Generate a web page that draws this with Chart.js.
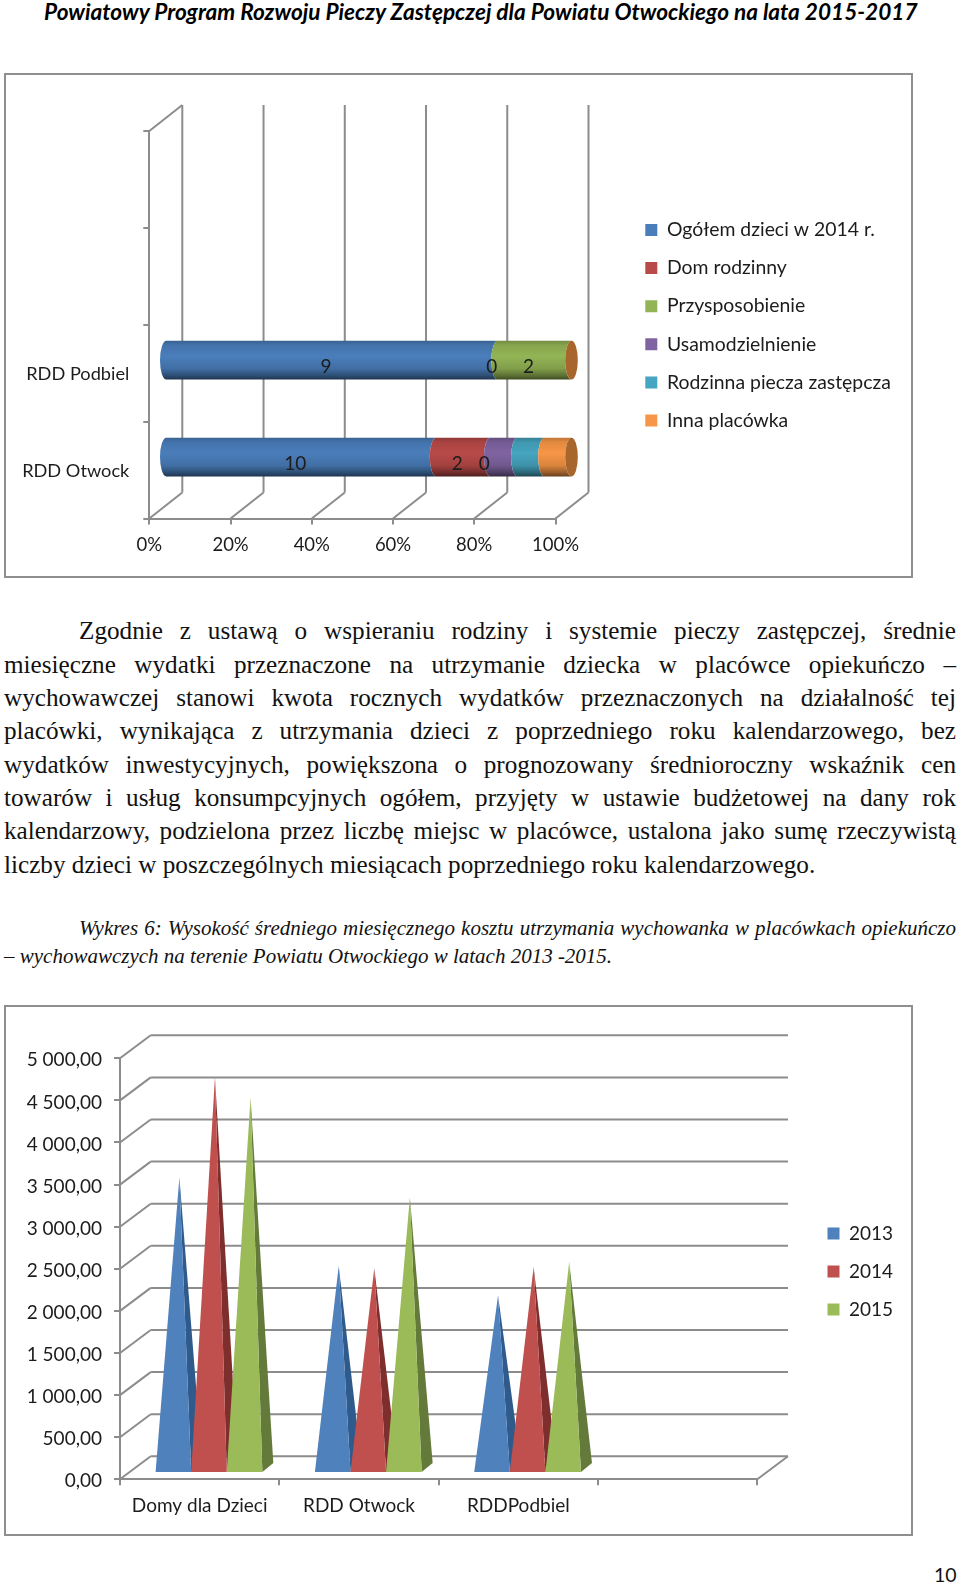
<!DOCTYPE html>
<html lang="pl">
<head>
<meta charset="utf-8">
<title>Powiatowy Program Rozwoju Pieczy Zastępczej</title>
<script src="https://cdn.jsdelivr.net/npm/chart.js@4/dist/chart.umd.min.js"></script>
<style>
html, body { margin: 0; padding: 0; background: #fff; }
body { position: relative; width: 960px; height: 1585px; overflow: hidden; color: #111; }
.head { position: absolute; left: 44px; top: 0; width: 873px; height: 24px; font: italic bold 22.6px/24px Lato, sans-serif; text-align: justify; text-align-last: justify; white-space: nowrap; color: #000; }
.line { position: absolute; left: 4px; width: 952px; height: 33px; font: 25.2px/33px "Liberation Serif", serif; text-align: justify; text-align-last: justify; white-space: nowrap; }
.line.last { text-align-last: left; }
.first { left: 79px; width: 877px; }
.cap { font: italic 21px/28px "Liberation Serif", serif; height: 28px; }
.frame { position: absolute; left: 4px; width: 909px; box-sizing: border-box; border: 2px solid #8e8e8e; }
.frame canvas { position: absolute; left: 0; top: 0; }
.page { position: absolute; left: 934px; top: 1562px; font: 19.5px/26px Lato, sans-serif; }
</style>
</head>
<body>
<div class="head">Powiatowy Program Rozwoju Pieczy Zastępczej dla Powiatu Otwockiego na lata 2015-2017</div>

<div class="frame" style="top:73px;height:505px"><canvas id="chartTop" width="905" height="501"></canvas></div>

<div class="line first" style="top:614px">Zgodnie z ustawą o wspieraniu rodziny i systemie pieczy zastępczej, średnie</div>
<div class="line" style="top:648px">miesięczne wydatki przeznaczone na utrzymanie dziecka w placówce opiekuńczo –</div>
<div class="line" style="top:681px">wychowawczej stanowi kwota rocznych wydatków przeznaczonych na działalność tej</div>
<div class="line" style="top:714px">placówki, wynikająca z utrzymania dzieci z poprzedniego roku kalendarzowego, bez</div>
<div class="line" style="top:748px">wydatków inwestycyjnych, powiększona o prognozowany średnioroczny wskaźnik cen</div>
<div class="line" style="top:781px">towarów i usług konsumpcyjnych ogółem, przyjęty w ustawie budżetowej na dany rok</div>
<div class="line" style="top:814px">kalendarzowy, podzielona przez liczbę miejsc w placówce, ustalona jako sumę rzeczywistą</div>
<div class="line last" style="top:848px">liczby dzieci w poszczególnych miesiącach poprzedniego roku kalendarzowego.</div>

<div class="line first cap" style="top:914px">Wykres 6: Wysokość średniego miesięcznego kosztu utrzymania wychowanka w placówkach opiekuńczo</div>
<div class="line last cap" style="top:942px">– wychowawczych na terenie Powiatu Otwockiego w latach 2013 -2015.</div>

<div class="frame" style="top:1005px;height:531px"><canvas id="chartBottom" width="905" height="527"></canvas></div>

<div class="page">10</div>

<script>
// top chart
const placeCategories = ['RDD Otwock', 'RDD Podbiel', '', ''];
const placeSeries = ['Ogółem dzieci w 2014 r.', 'Dom rodzinny', 'Przysposobienie', 'Usamodzielnienie', 'Rodzinna piecza zastępcza', 'Inna placówka'];
const ogolem = [10, 9, null, null];
const domRodzinny = [2, 0, null, null];
const przysposobienie = [0, 2, null, null];
const usamodzielnienie = [1, 0, null, null];
const rodzinnaPiecza = [1, 0, null, null];
const innaPlacowka = [1, 0, null, null];
const percentTicks = ['0%', '20%', '40%', '60%', '80%', '100%'];
const placeColors = ['#4a7ebb', '#b94a48', '#93b455', '#8064a2', '#46a5c0', '#f79646'];

// bottom chart
const homeCategories = ['Domy dla Dzieci', 'RDD Otwock', 'RDDPodbiel', ''];
const years = ['2013', '2014', '2015'];
const cost2013 = [3443, 2393, 2044, null];
const cost2014 = [4633, 2369, 2381, null];
const cost2015 = [4395, 3208, 2440, null];
const costTicks = ['0,00', '500,00', '1 000,00', '1 500,00', '2 000,00', '2 500,00', '3 000,00', '3 500,00', '4 000,00', '4 500,00', '5 000,00'];
const yearColors = ['#4f81bd', '#c0504d', '#9bbb59'];
const yearSides = ['#2f5b8c', '#7e2f2d', '#647a3b'];

const GREY = '#8c8c8c';
const TEXT = '#1c1c1c';
Chart.defaults.font.family = 'Lato, sans-serif';
Chart.defaults.font.size = 19;
Chart.defaults.color = TEXT;
Chart.defaults.animation = false;

const shade = (hex, f) => {
    const n = parseInt(hex.slice(1), 16);
    return `rgb(${(n >> 16) * f | 0},${((n >> 8) & 255) * f | 0},${(n & 255) * f | 0})`;
};

const line = (ctx, x1, y1, x2, y2) => {
    ctx.beginPath();
    ctx.moveTo(x1, y1);
    ctx.lineTo(x2, y2);
    ctx.stroke();
};

// the default bars are replaced by the 3D shapes, the legend is moved next to the plot
const moveLegend = (x, y) => ({
    id: 'moveLegend',
    afterLayout(chart) {
        const lg = chart.legend;
        lg.left = x; lg.right = x + lg.width;
        lg.top = y; lg.bottom = y + lg.height;
    }
});

const cylinders = {
    id: 'cylinders',
    beforeDatasetDraw: () => false,
    beforeDatasetsDraw(chart) {
        const ctx = chart.ctx, xs = chart.scales.x, ys = chart.scales.y;
        const dx = 33, dy = -26;   // depth of the floor
        const barDx = 16, barDy = -13, rx = 6.3;
        ctx.save();
        ctx.strokeStyle = GREY;
        ctx.lineWidth = 2;
        xs.ticks.forEach(t => {
            const x = xs.getPixelForValue(t.value);
            line(ctx, x + dx, ys.bottom + dy, x + dx, ys.top + dy);
            line(ctx, x, ys.bottom, x + dx, ys.bottom + dy);
        });
        line(ctx, xs.left, ys.top, xs.left + dx, ys.top + dy);

        chart.data.datasets.forEach((ds, i) => {
            chart.getDatasetMeta(i).data.forEach((el, j) => {
                if (ds.counts[j] === null || el.x === el.base) return;
                const x0 = el.base + barDx, x1 = el.x + barDx, cy = el.y + barDy, h = el.height;
                const g = ctx.createLinearGradient(0, cy - h / 2, 0, cy + h / 2);
                [[0, .78], [.12, .92], [.4, 1], [.72, .88], [.9, .62], [1, .42]].forEach(s => g.addColorStop(s[0], shade(ds.backgroundColor, s[1])));
                ctx.fillStyle = g;
                ctx.beginPath();
                ctx.ellipse(x0, cy, rx, h / 2, 0, -Math.PI / 2, Math.PI / 2, true);
                ctx.ellipse(x1, cy, rx, h / 2, 0, Math.PI / 2, Math.PI * 1.5, false);
                ctx.closePath();
                ctx.fill();
            });
        });

        // end caps sit on the last series
        const lastMeta = chart.getDatasetMeta(chart.data.datasets.length - 1);
        lastMeta.data.forEach((el, j) => {
            if (ogolem[j] === null) return;
            ctx.fillStyle = '#a8652c';
            ctx.beginPath();
            ctx.ellipse(el.x + barDx, el.y + barDy, rx, el.height / 2, 0, 0, Math.PI * 2);
            ctx.fill();
        });

        // Only the first three series carry numbers in the original
        ctx.fillStyle = TEXT;
        ctx.font = '19px Lato, sans-serif';
        ctx.textAlign = 'center';
        ctx.textBaseline = 'middle';
        chart.data.datasets.slice(0, 3).forEach((ds, i) => {
            chart.getDatasetMeta(i).data.forEach((el, j) => {
                if (ds.counts[j] === null) return;
                ctx.fillText(ds.counts[j], (el.x + el.base) / 2 + 10, el.y - 6);
            });
        });
        ctx.restore();
    }
};

const pyramids = {
    id: 'pyramids',
    beforeDatasetDraw: () => false,
    beforeDatasetsDraw(chart) {
        const ctx = chart.ctx, xs = chart.scales.x, ys = chart.scales.y;
        const dx = 30.7, dy = -23;        // depth of the floor
        const frontDx = 9.3, frontDy = -7.3;
        const tipDx = 15.3, tipDy = -11.8;
        const sideDx = 11, sideDy = -9;
        ctx.save();
        ctx.strokeStyle = GREY;
        ctx.lineWidth = 2;
        ys.ticks.forEach(t => {
            const y = ys.getPixelForValue(t.value);
            line(ctx, xs.left, y, xs.left + dx, y + dy);
            line(ctx, xs.left + dx, y + dy, xs.right + dx, y + dy);
        });
        line(ctx, xs.right, ys.bottom, xs.right + dx, ys.bottom + dy);

        chart.data.datasets.forEach((ds, i) => {
            chart.getDatasetMeta(i).data.forEach((el, j) => {
                if (ds.data[j] === null) return;
                const left = el.x - el.width / 2 + frontDx, right = el.x + el.width / 2 + frontDx;
                const base = ys.getPixelForValue(0) + frontDy;
                const tipX = el.x + tipDx, tipY = el.y + tipDy;
                ctx.fillStyle = yearSides[i];
                ctx.beginPath();
                ctx.moveTo(tipX, tipY);
                ctx.lineTo(right + sideDx, base + sideDy);
                ctx.lineTo(right, base);
                ctx.closePath();
                ctx.fill();
                ctx.fillStyle = ds.backgroundColor;
                ctx.beginPath();
                ctx.moveTo(tipX, tipY);
                ctx.lineTo(right, base);
                ctx.lineTo(left, base);
                ctx.closePath();
                ctx.fill();
            });
        });
        ctx.restore();
    }
};

const axisGrid = { drawOnChartArea: false, color: GREY, lineWidth: 2, tickLength: 6 };
const axisBorder = { color: GREY, width: 2 };

const placeCounts = [ogolem, domRodzinny, przysposobienie, usamodzielnienie, rodzinnaPiecza, innaPlacowka];
const placeTotal = j => placeCounts.reduce((sum, s) => sum + (s[j] || 0), 0);

new Chart(document.getElementById('chartTop'), {
    type: 'bar',
    plugins: [moveLegend(620.6, 126.6), cylinders],
    data: {
        labels: placeCategories,
        datasets: placeSeries.map((label, i) => ({
            label: label,
            counts: placeCounts[i],
            data: placeCounts[i].map((v, j) => v === null ? null : v / placeTotal(j) * 100),
            backgroundColor: placeColors[i],
            barPercentage: 0.4,
            categoryPercentage: 1
        }))
    },
    options: {
        indexAxis: 'y',
        responsive: false,
        layout: { padding: { top: 56, right: 355.5, left: 0, bottom: 0 } },
        plugins: {
            tooltip: { enabled: false },
            legend: {
                position: 'chartArea',
                align: 'start',
                labels: { boxWidth: 12, boxHeight: 12, padding: 18.7, font: { size: 19.4 }, color: TEXT }
            }
        },
        scales: {
            x: {
                stacked: true, min: 0, max: 100,
                grid: axisGrid, border: axisBorder,
                ticks: { stepSize: 20, padding: 9, maxRotation: 0, font: { size: 18.5 }, callback: (v, i) => percentTicks[i] },
                afterFit: s => { s.height = 57.5; }
            },
            y: {
                stacked: true, reverse: true,
                grid: axisGrid, border: axisBorder,
                ticks: { padding: 14, autoSkip: false, labelOffset: 1, font: { size: 18.2 } },
                afterFit: s => { s.width = 143.3; }
            }
        }
    }
});

new Chart(document.getElementById('chartBottom'), {
    type: 'bar',
    plugins: [moveLegend(802.5, 198), pyramids],
    data: {
        labels: homeCategories,
        datasets: years.map((label, i) => ({
            label: label,
            data: [cost2013, cost2014, cost2015][i],
            backgroundColor: yearColors[i],
            barPercentage: 1,
            categoryPercentage: 0.67
        }))
    },
    options: {
        responsive: false,
        layout: { padding: { top: 51.3, right: 153.7, left: 0, bottom: 0 } },
        plugins: {
            tooltip: { enabled: false },
            legend: {
                position: 'chartArea',
                align: 'start',
                labels: { boxWidth: 12, boxHeight: 12, padding: 19, font: { size: 19 }, color: TEXT }
            }
        },
        scales: {
            x: {
                grid: axisGrid, border: axisBorder,
                ticks: { padding: 9, autoSkip: false, maxRotation: 0 },
                afterFit: s => { s.height = 54.7; }
            },
            y: {
                min: 0, max: 5000,
                grid: axisGrid, border: axisBorder,
                ticks: { stepSize: 500, padding: 12, labelOffset: 2, callback: (v, i) => costTicks[i] },
                afterFit: s => { s.width = 114; }
            }
        }
    }
});
</script>
</body>
</html>
